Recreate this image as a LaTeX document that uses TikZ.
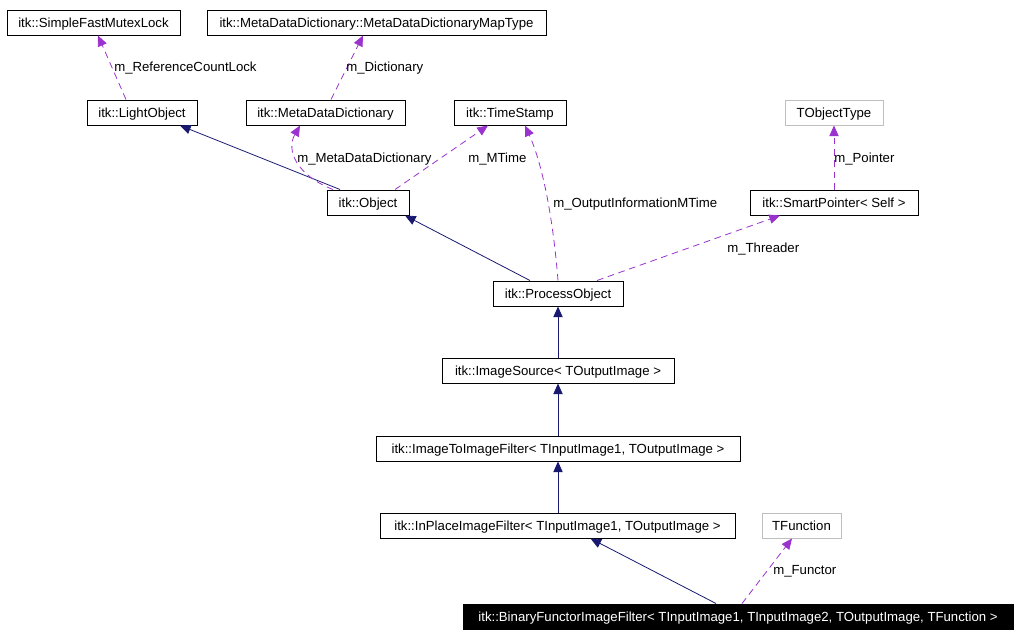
\documentclass[tikz,border=0pt]{standalone}
\usepackage{fontspec}
\setmainfont{Liberation Sans}
\usetikzlibrary{arrows.meta,calc}
\definecolor{navyline}{HTML}{191970}
\definecolor{orchidline}{HTML}{9A32CD}
\definecolor{greybox}{HTML}{BFBFBF}
\begin{document}
\begin{tikzpicture}[x=0.75pt,y=-0.75pt,
  font=\fontsize{9.9}{12}\selectfont,
  cls/.style={draw=black, fill=white, minimum height=18.75pt, inner sep=0pt, text height=8.6pt, text depth=0.4pt, line width=0.75pt},
  tpl/.style={cls, draw=greybox},
  focus/.style={cls, fill=black, text=white},
  inh/.style={draw=navyline, line width=0.6pt, -{Triangle[length=8pt,width=7pt]}},
  use/.style={draw=orchidline, line width=0.6pt, dash pattern=on 5pt off 3.5pt, -{Triangle[length=8pt,width=7pt]}},
  lbl/.style={anchor=west, inner sep=0pt, text height=8.6pt, text depth=0.4pt}]
\useasboundingbox (0,0) rectangle (1020,636);
% nodes
\node[cls, minimum width=129.75pt] (sfml) at (93.5,22.5) {itk::SimpleFastMutexLock};
\node[cls, minimum width=254.25pt] (map) at (376.5,22.5) {itk::MetaDataDictionary::MetaDataDictionaryMapType};
\node[cls, minimum width=82.5pt] (lo) at (142,112.5) {itk::LightObject};
\node[cls, minimum width=119.25pt] (mdd) at (325.5,112.5) {itk::MetaDataDictionary};
\node[cls, minimum width=84pt] (ts) at (510,112.5) {itk::TimeStamp};
\node[tpl, minimum width=73.5pt] (tobj) at (834,112.5) {TObjectType};
\node[cls, minimum width=61.5pt] (obj) at (368,202.5) {itk::Object};
\node[cls, minimum width=126pt] (sp) at (834,202.5) {itk::SmartPointer< Self >};
\node[cls, minimum width=97.5pt] (po) at (558,293.5) {itk::ProcessObject};
\node[cls, minimum width=174pt] (is) at (558,370.5) {itk::ImageSource< TOutputImage >};
\node[cls, minimum width=273pt] (iti) at (558,448.5) {itk::ImageToImageFilter< TInputImage1, TOutputImage >};
\node[cls, minimum width=266.25pt] (ip) at (557.5,525.5) {itk::InPlaceImageFilter< TInputImage1, TOutputImage >};
\node[tpl, minimum width=59.25pt] (tf) at (801.5,525.5) {TFunction};
\node[focus, minimum width=412.5pt] (bf) at (738,616.5) {itk::BinaryFunctorImageFilter< TInputImage1, TInputImage2, TOutputImage, TFunction >};
% inheritance
\draw[inh] ($(obj.north)+(-28,0)$) -- ($(lo.south)+(38,0)$);
\draw[inh] ($(po.north)+(-28,0)$) -- ($(obj.south)+(37,0)$);
\draw[inh] (is.north) -- (po.south);
\draw[inh] (iti.north) -- (is.south);
\draw[inh] ($(ip.north)+(0.5,0)$) -- ($(iti.south)+(0,0)$);
\draw[inh] ($(bf.north)+(-22,0)$) -- ($(ip.south)+(33,0)$);
% usage
\draw[use] ($(lo.north)+(-16,0)$) -- ($(sfml.south)+(4.5,0)$);
\draw[use] ($(mdd.north)+(5.5,0)$) -- ($(map.south)+(-13.5,0)$);
\draw[use] ($(obj.north)+(-35,0)$) .. controls (296,175) and (286,150) .. ($(mdd.south)+(-25.5,0)$);
\draw[use] ($(obj.north)+(27,0)$) -- ($(ts.south)+(-22,0)$);
\draw[use] (po.north) .. controls (554,230) and (545,170) .. ($(ts.south)+(15,0)$);
\draw[use] ($(po.north)+(39,0)$) -- ($(sp.south)+(-54,0)$);
\draw[use] (sp.north) -- (tobj.south);
\draw[use] ($(bf.north)+(4,0)$) -- ($(tf.south)+(-9.5,0)$);
% labels
\node[lbl] (l1) at (114,66) {m\_ReferenceCountLock};
\node[lbl] (l2) at (346,66) {m\_Dictionary};
\node[lbl] (l3) at (297,157) {m\_MetaDataDictionary};
\node[lbl] (l4) at (468,157) {m\_MTime};
\node[lbl] (l5) at (553,202) {m\_OutputInformationMTime};
\node[lbl] (l6) at (834,157) {m\_Pointer};
\node[lbl] (l7) at (727,247) {m\_Threader};
\node[lbl] (l8) at (773,569) {m\_Functor};
\end{tikzpicture}
\end{document}
